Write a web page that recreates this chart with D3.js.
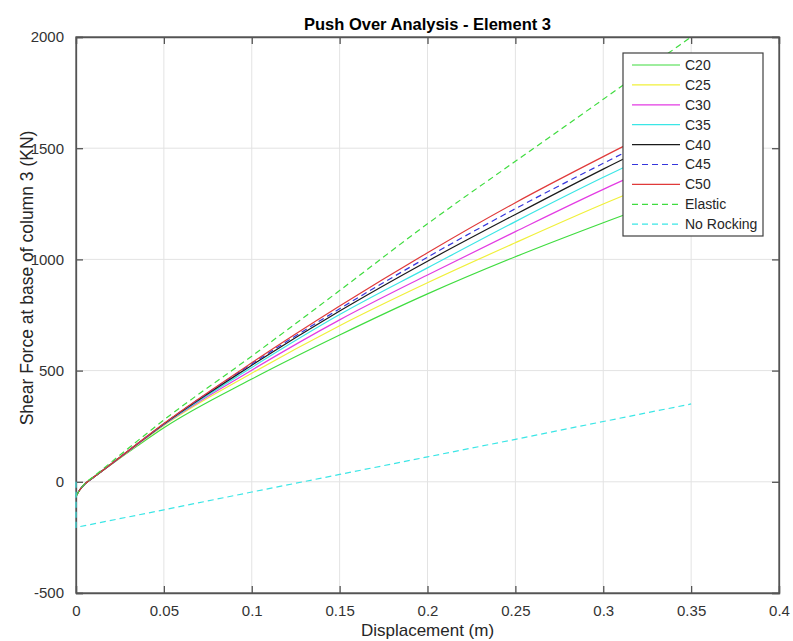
<!DOCTYPE html>
<html>
<head>
<meta charset="utf-8">
<script src="https://cdn.jsdelivr.net/npm/d3@7"></script>
<style>
  html, body { margin: 0; padding: 0; background: #fff; }
  svg text { font-family: "Liberation Sans", Arial, sans-serif; fill: #262626; }
</style>
</head>
<body>
<div id="chart"></div>
<script>
// displacement samples (m)
const xs = [0, 0.002, 0.005, 0.01, 0.02, 0.035, 0.05, 0.1, 0.15, 0.2, 0.25, 0.3, 0.35];

// shear force (KN) per concrete grade
const c20 = [-65, -38, -10, 20, 78, 162, 243, 462, 660, 845, 1012, 1165, 1310];
const c25 = [-65, -38, -10, 20, 79, 166, 253, 488, 702, 895, 1075, 1249, 1410];
const c30 = [-65, -38, -10, 20, 79, 168, 256, 502, 728, 930, 1125, 1315, 1490];
const c35 = [-65, -38, -10, 20, 80, 170, 258, 514, 752, 962, 1170, 1369, 1555];
const c40 = [-65, -38, -10, 20, 80, 171, 260, 524, 768, 992, 1202, 1406, 1600];
const c45 = [-65, -38, -10, 20, 80, 171, 261, 530, 778, 1010, 1228, 1432, 1630];
const c50 = [-65, -38, -10, 20, 80, 172, 262, 535, 790, 1030, 1255, 1462, 1660];
const elastic = [-65, -38, -8, 24, 88, 184, 278, 565, 860, 1160, 1441, 1720, 2000];

// no rocking case
const noRockX = [0, 0, 0.05, 0.1, 0.15, 0.2, 0.25, 0.3, 0.35];
const noRockY = [0, -205, -126, -46, 33, 112, 191, 271, 350];

const seriesNames = ['C20', 'C25', 'C30', 'C35', 'C40', 'C45', 'C50', 'Elastic', 'No Rocking'];
const xTicks = [0, 0.05, 0.1, 0.15, 0.2, 0.25, 0.3, 0.35, 0.4];
const yTicks = [-500, 0, 500, 1000, 1500, 2000];

const series = [
    {name: seriesNames[0], x: xs, y: c20, color: '#3fdc3f', dash: null},
    {name: seriesNames[1], x: xs, y: c25, color: '#f0f03a', dash: null},
    {name: seriesNames[2], x: xs, y: c30, color: '#e33be3', dash: null},
    {name: seriesNames[3], x: xs, y: c35, color: '#3be6e6', dash: null},
    {name: seriesNames[4], x: xs, y: c40, color: '#1a1a1a', dash: null},
    {name: seriesNames[5], x: xs, y: c45, color: '#3535dc', dash: '6,4'},
    {name: seriesNames[6], x: xs, y: c50, color: '#e03a3a', dash: null},
    {name: seriesNames[7], x: xs, y: elastic, color: '#3fdc3f', dash: '6,4'},
    {name: seriesNames[8], x: noRockX, y: noRockY, color: '#3be6e6', dash: '6,4'}
];

const W = 793, H = 641;
const margin = {top: 37, right: 14, bottom: 48, left: 76};
const width = W - margin.left - margin.right;
const height = H - margin.top - margin.bottom;

const svg = d3.select('#chart')
    .append('svg')
    .attr('width', W)
    .attr('height', H);

const g = svg.append('g')
    .attr('transform', `translate(${margin.left},${margin.top})`);

const x = d3.scaleLinear().domain([0, 0.4]).range([0, width]);
const y = d3.scaleLinear().domain([-500, 2000]).range([height, 0]);

// grid
g.append('g')
    .selectAll('line')
    .data(xTicks.slice(1, -1))
    .enter()
    .append('line')
    .attr('x1', d => x(d)).attr('x2', d => x(d))
    .attr('y1', 0).attr('y2', height)
    .attr('stroke', '#e3e3e3').attr('stroke-width', 1);

g.append('g')
    .selectAll('line')
    .data(yTicks.slice(1, -1))
    .enter()
    .append('line')
    .attr('x1', 0).attr('x2', width)
    .attr('y1', d => y(d)).attr('y2', d => y(d))
    .attr('stroke', '#e3e3e3').attr('stroke-width', 1);

// axes (ticks inside, box on)
const tickLen = 7;
const xAxis = d3.axisBottom(x).tickValues(xTicks).tickSize(-tickLen).tickPadding(tickLen + 5)
    .tickFormat(d => String(+d.toFixed(2)));
const yAxis = d3.axisLeft(y).tickValues(yTicks).tickSize(-tickLen).tickPadding(tickLen + 5)
    .tickFormat(d => String(d));

g.append('g')
    .attr('transform', `translate(0,${height})`)
    .call(xAxis);
g.append('g').call(yAxis);

g.append('g').call(d3.axisTop(x).tickValues(xTicks).tickSize(-tickLen).tickFormat(''));
g.append('g').attr('transform', `translate(${width},0)`)
    .call(d3.axisRight(y).tickValues(yTicks).tickSize(-tickLen).tickFormat(''));

g.selectAll('.domain, .tick line').attr('stroke', '#555').attr('stroke-width', 1.3);
g.selectAll('.tick text').style('font-size', '15px').style('fill', '#333');

// frame
g.append('rect')
    .attr('width', width).attr('height', height)
    .attr('fill', 'none').attr('stroke', '#555').attr('stroke-width', 1.3);

// lines (drawn over the axes, like the original)
const lineSmooth = d3.line()
    .x(d => x(d[0]))
    .y(d => y(d[1]))
    .curve(d3.curveMonotoneX);
const lineStraight = d3.line()
    .x(d => x(d[0]))
    .y(d => y(d[1]));

series.forEach(function(s) {
    const pts = s.x.map((v, i) => [v, s.y[i]]);
    g.append('path')
        .datum(pts)
        .attr('fill', 'none')
        .attr('stroke', s.color)
        .attr('stroke-width', 1.2)
        .attr('stroke-dasharray', s.dash)
        .attr('d', s.name === 'No Rocking' ? lineStraight : lineSmooth);
});

// title and axis labels
svg.append('text')
    .attr('x', margin.left + width / 2)
    .attr('y', 29.5)
    .attr('text-anchor', 'middle')
    .style('font-size', '16.5px')
    .style('font-weight', 'bold')
    .style('fill', '#000')
    .text('Push Over Analysis - Element 3');

svg.append('text')
    .attr('x', margin.left + width / 2)
    .attr('y', 636)
    .attr('text-anchor', 'middle')
    .style('font-size', '17px')
    .text('Displacement (m)');

svg.append('text')
    .attr('transform', 'translate(33,278) rotate(-90)')
    .attr('text-anchor', 'middle')
    .style('font-size', '17.5px')
    .text('Shear Force at base of column 3 (KN)');

// legend
const lg = svg.append('g').attr('transform', 'translate(623,53)');
lg.append('rect')
    .attr('width', 140).attr('height', 183)
    .attr('fill', '#fff').attr('stroke', '#404040').attr('stroke-width', 1.2);

const item = lg.selectAll('.item')
    .data(series)
    .enter()
    .append('g')
    .attr('class', 'item')
    .attr('transform', (d, i) => `translate(0,${12 + i * 19.9})`);

item.append('line')
    .attr('x1', 9).attr('x2', 57)
    .attr('stroke', d => d.color)
    .attr('stroke-width', 1.2)
    .attr('stroke-dasharray', d => d.dash);

item.append('text')
    .attr('x', 62)
    .attr('dy', '0.35em')
    .style('font-size', '14px')
    .text(d => d.name);
</script>
</body>
</html>
